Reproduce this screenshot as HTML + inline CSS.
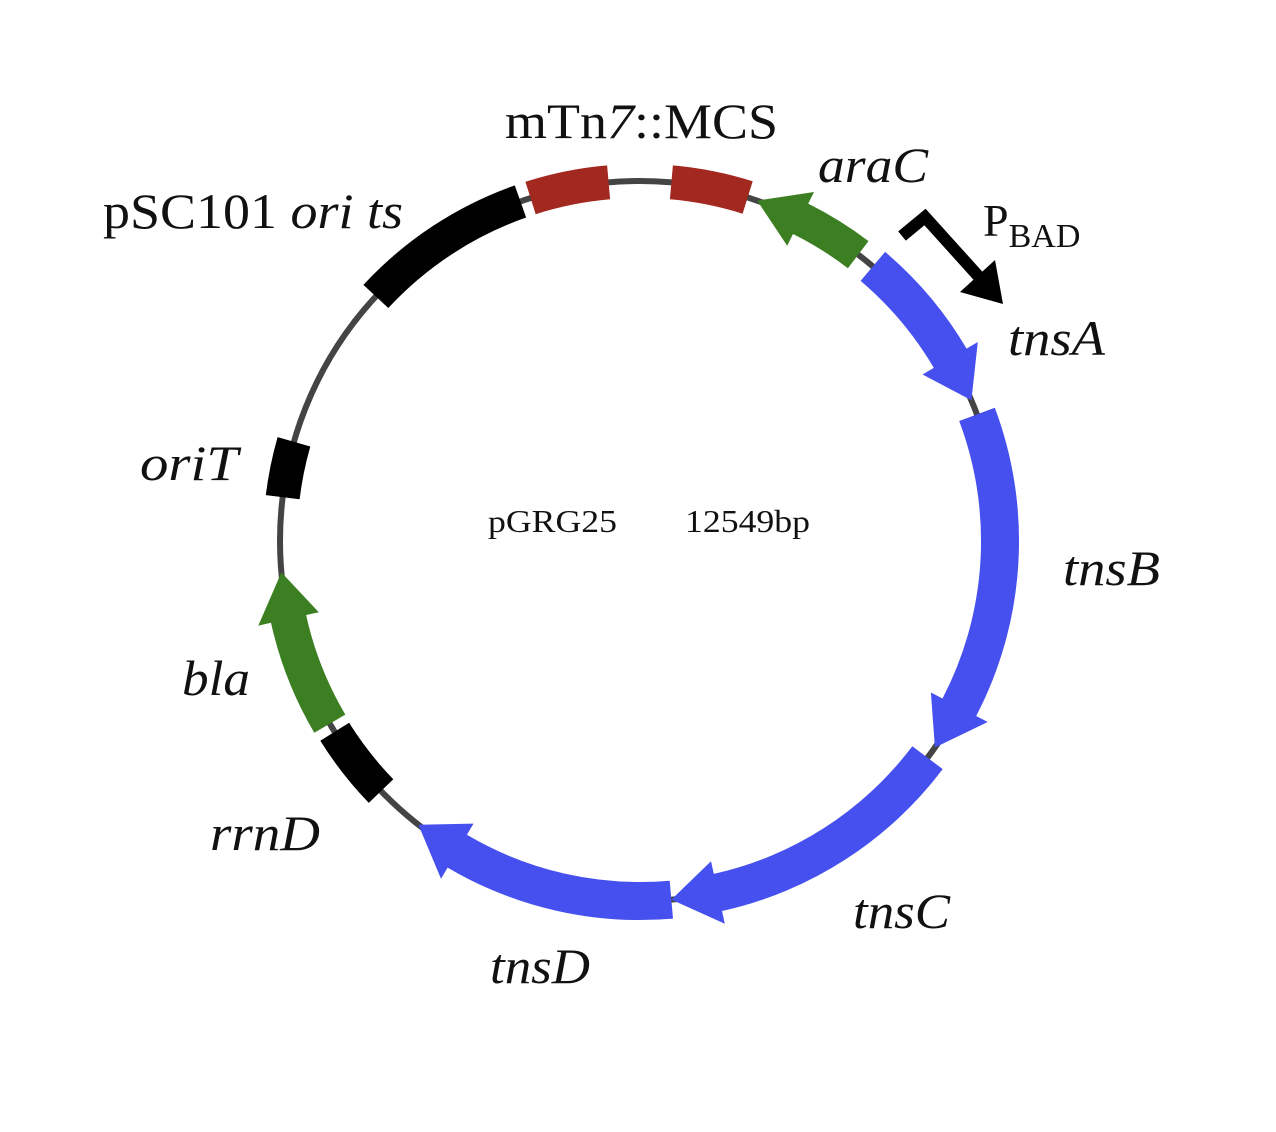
<!DOCTYPE html>
<html><head><meta charset="utf-8">
<style>
html,body{margin:0;padding:0;background:#fff;}
svg{display:block;}
text{font-family:"Liberation Serif",serif;fill:#111;}
</style></head>
<body>
<svg id="map" width="1276" height="1132" viewBox="0 0 1276 1132" xmlns="http://www.w3.org/2000/svg">
<rect width="1276" height="1132" fill="#fff"/>
<circle cx="640" cy="541" r="360" fill="none" stroke="#444" stroke-width="6"/>
<g id="features"></g>
<g>
<polyline points="902,236 925,217 980,278" fill="none" stroke="#000" stroke-width="12" stroke-linejoin="miter"/>
<polygon points="960,292 1003,304 995,260" fill="#000"/>
</g>
<text x="983" y="236" font-size="46">P<tspan font-size="34" dy="11">BAD</tspan></text>
<text x="488" y="532" font-size="32" textLength="129" lengthAdjust="spacingAndGlyphs">pGRG25</text>
<text x="685" y="532" font-size="32" textLength="125" lengthAdjust="spacingAndGlyphs">12549bp</text>
<g id="labels"></g>
</svg>
<script>
const CX = 640, CY = 541, R = 360;
// features: name, start angle (deg clockwise from top), end angle, type
const featNames = ["mcs-left","mcs-right","araC","tnsA","tnsB","tnsC","tnsD","rrnD","bla","oriT","pSC101"];
const featStart = [-17.7, 5, 19, 40.3, 69.4, 127, 175, 226, 239.5, 277, 312.8];
const featEnd   = [-5, 17.4, 37.3, 67, 125, 175, 218, 238, 265, 286, 340.6];
const featDir   = [0, 0, -1, 1, 1, 1, 1, 0, 1, 0, 0];
const featColor = ["#a3281f","#a3281f","#3b7f22","#4650ee","#4650ee","#4650ee","#4650ee","#000","#3b7f22","#000","#000"];
const featWidth = [34, 34, 34, 38, 38, 38, 38, 34, 36, 34, 34];

const labelText = ["mTn7::MCS","araC","pSC101 ori ts","tnsA","oriT","tnsB","bla","rrnD","tnsC","tnsD"];
const labelX = [505, 818, 103, 1008, 140, 1063, 182, 210, 853, 490];
const labelY = [138, 182, 228, 355, 480, 585, 695, 850, 928, 983];
const labelW = [273, 110, 300, 97, 98, 97, 68, 110, 97, 100];

const NS = "http://www.w3.org/2000/svg";
function pt(deg, r){ const a = deg*Math.PI/180; return [CX + r*Math.sin(a), CY - r*Math.cos(a)]; }
function f(p){ return p[0].toFixed(1)+","+p[1].toFixed(1); }
function arcPath(s, e, w, dir){
  const ro = R + w/2, ri = R - w/2, headDeg = 7.5, hw = w/2 + 13;
  let bs = s, be = e;
  if (dir === 1) be = e - headDeg;
  if (dir === -1) bs = s + headDeg;
  const large = (be - bs) > 180 ? 1 : 0;
  let d = "M" + f(pt(bs, ro)) + " A" + ro + "," + ro + " 0 " + large + " 1 " + f(pt(be, ro));
  if (dir === 1) d += " L" + f(pt(be, R + hw)) + " L" + f(pt(e, R)) + " L" + f(pt(be, R - hw));
  d += " L" + f(pt(be, ri)) + " A" + ri + "," + ri + " 0 " + large + " 0 " + f(pt(bs, ri));
  if (dir === -1) d += " L" + f(pt(bs, R - hw)) + " L" + f(pt(s, R)) + " L" + f(pt(bs, R + hw));
  return d + " Z";
}
const fg = document.getElementById("features");
for (let i = 0; i < featNames.length; i++){
  const p = document.createElementNS(NS, "path");
  p.setAttribute("d", arcPath(featStart[i], featEnd[i], featWidth[i], featDir[i]));
  p.setAttribute("fill", featColor[i]);
  
  
  fg.appendChild(p);
}
const lg = document.getElementById("labels");
for (let i = 0; i < labelText.length; i++){
  const t = document.createElementNS(NS, "text");
  t.setAttribute("x", labelX[i]); t.setAttribute("y", labelY[i]);
  t.setAttribute("font-size", "50");
  t.setAttribute("textLength", labelW[i]);
  t.setAttribute("lengthAdjust", "spacingAndGlyphs");
  const s = labelText[i];
  if (s === "mTn7::MCS"){
    t.innerHTML = 'mTn<tspan font-style="italic">7</tspan>::MCS';
  } else if (s === "pSC101 ori ts"){
    t.innerHTML = 'pSC101 <tspan font-style="italic">ori ts</tspan>';
  } else {
    t.setAttribute("font-style", "italic");
    t.textContent = s;
  }
  
  
  lg.appendChild(t);
}
</script>
</body></html>
